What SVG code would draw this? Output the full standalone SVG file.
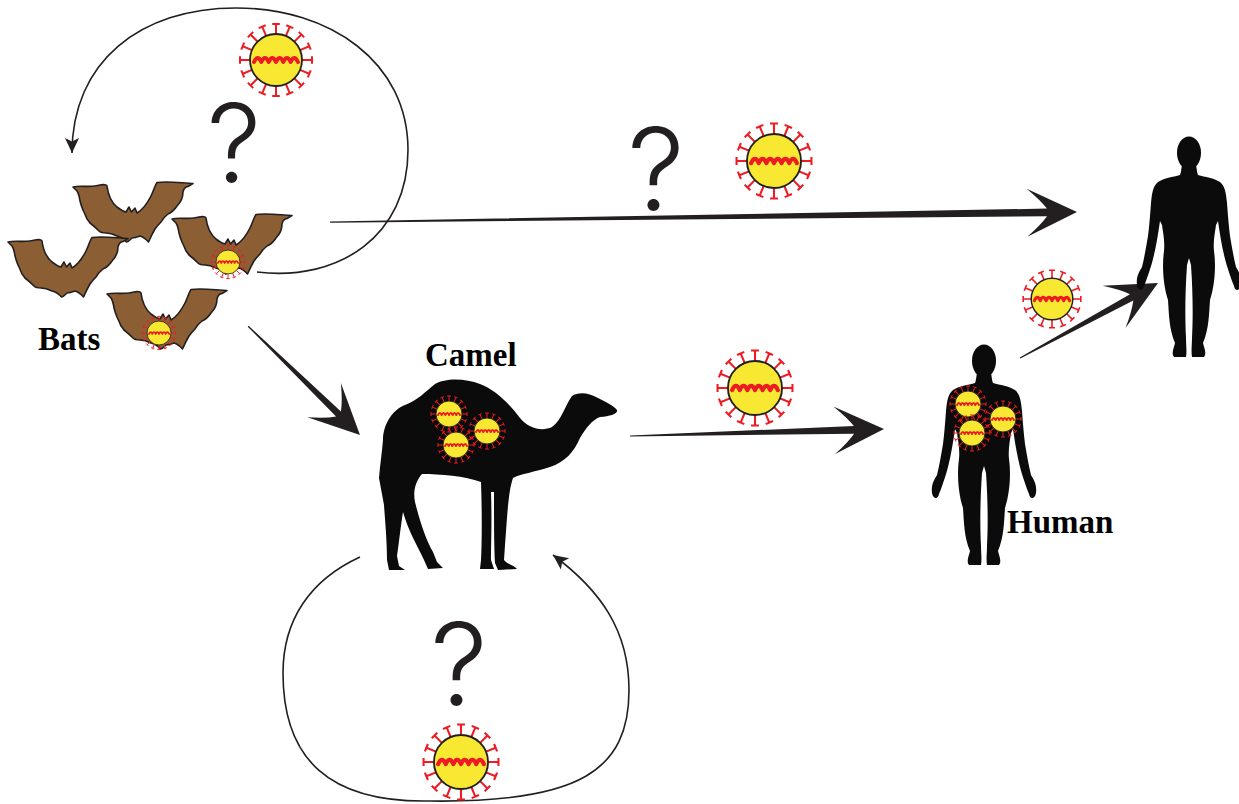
<svg xmlns="http://www.w3.org/2000/svg" xmlns:xlink="http://www.w3.org/1999/xlink" width="1239" height="804" viewBox="0 0 1239 804">
  <style>
    .label { font-family: "Liberation Serif", "Times New Roman", serif; font-weight: bold; font-size: 33px; fill: #000; }
    .qmark { font-family: Inter, "Open Sans", "DejaVu Sans", sans-serif; font-weight: 300; fill: #231f20; text-anchor: middle; }
    .loop { fill: none; stroke: #231f20; stroke-width: 1.6; }
    .arrow { fill: #231f20; }
    .bat { fill: #8b5e34; stroke: #231f20; stroke-width: 1.6; stroke-linejoin: round; }
    .silhouette { fill: #0b0b0b; }
    .spike { fill: none; stroke: #ed1c24; stroke-width: 2; stroke-linecap: butt; }
    .capsid { fill: #f9e831; stroke: #231f20; stroke-width: 1.8; }
    .rna { fill: none; stroke: #ed1c24; stroke-width: 4; stroke-linejoin: round; stroke-linecap: round; }
  </style>
  <defs>
    <!-- one spike protein: stem plus T-cap -->
    <path id="spike" class="spike" d="M0,-26 V-36 M-3.8,-36 H3.8"/>
    <!-- virion, radius 26, centred on the origin -->
    <g id="virus">
      <use xlink:href="#spike"/>
      <use xlink:href="#spike" transform="rotate(22.5)"/>
      <use xlink:href="#spike" transform="rotate(45)"/>
      <use xlink:href="#spike" transform="rotate(67.5)"/>
      <use xlink:href="#spike" transform="rotate(90)"/>
      <use xlink:href="#spike" transform="rotate(112.5)"/>
      <use xlink:href="#spike" transform="rotate(135)"/>
      <use xlink:href="#spike" transform="rotate(157.5)"/>
      <use xlink:href="#spike" transform="rotate(180)"/>
      <use xlink:href="#spike" transform="rotate(202.5)"/>
      <use xlink:href="#spike" transform="rotate(225)"/>
      <use xlink:href="#spike" transform="rotate(247.5)"/>
      <use xlink:href="#spike" transform="rotate(270)"/>
      <use xlink:href="#spike" transform="rotate(292.5)"/>
      <use xlink:href="#spike" transform="rotate(315)"/>
      <use xlink:href="#spike" transform="rotate(337.5)"/>
      <circle class="capsid" r="26"/>
      <path class="rna" d="M-22,2 q3.66,-8 7.33,0 q3.66,-8 7.33,0 q3.66,-8 7.33,0 q3.66,-8 7.33,0 q3.66,-8 7.33,0 q3.66,-8 7.33,0"/>
    </g>
    <!-- bat with raised wings, about 120 x 62 -->
    <path id="bat" class="bat" d="M0,7 C8,5 18,8 27,5 C31,4 34,5 34,6 C35,14 38,22 44,27 C48,30 51,32 53,32 L56,27 L58.5,32 L62,28 L64,33 C69,30 74,24 78,16 C81,10 82,5 84,2.5 C95,1 108,3 120,3.5 L115,6.5 Q111,7 110,12 Q110,20 104,26 Q100,32 95,34 Q90,38 88,42 Q84,46 82,49 Q79,54 75.5,62 Q71,57 67,56 Q62,58 59,58 Q55,62 53.5,62 Q49,57 44,56 Q38,53 33,53 Q28,53 26,51 Q21,46 17,43 Q15,40 14,39 Q12,34 10,30 Q8,25 7,21 Q6,14 4,11 Q2,9 0,7 Z"/>
    <!-- standing human, centred on x=0, head top at y=0 -->
    <g id="person" class="silhouette">
      <ellipse cx="0" cy="16" rx="12" ry="16.5"/>
      <path d="M-7,28 L7,28 C8,33 8,36 9,38 C16,40 25,41 31,45 C36,49 37,56 38,66 C39,80 40,91 41,99 C43,111 45,122 47,130 C50,135 53,140 52,148 C51,154 46,155 45,149 L43,144 C41,138 38,130 36,122 C33,110 31,98 29,84 L27,88 C26,96 24,104 25,114 C27,128 26,148 21,163 C20,177 20,192 14,206 C15,211 18,216 15,220 L3,220 C2,214 3,208 3,201 C4,182 4,157 2,128 L0,121 L-2,128 C-4,157 -4,182 -3,201 C-3,208 -2,214 -3,220 L-15,220 C-18,216 -15,211 -14,206 C-20,192 -20,177 -21,163 C-26,148 -27,128 -25,114 C-24,104 -26,96 -27,88 L-29,84 C-31,98 -33,110 -36,122 C-38,130 -41,138 -43,144 L-45,149 C-46,155 -51,154 -52,148 C-53,140 -50,135 -47,130 C-45,122 -43,111 -41,99 C-40,91 -39,80 -38,66 C-37,56 -36,49 -31,45 C-25,41 -16,40 -9,38 C-8,36 -8,33 -7,28 Z"/>
    </g>
    <marker id="loopHead" viewBox="-16 -8 17 16" refX="0" refY="0" markerWidth="17" markerHeight="16" markerUnits="userSpaceOnUse" orient="auto">
      <path d="M0,0 L-15,-7 L-11.5,0 L-15,7 Z" fill="#231f20"/>
    </marker>
  </defs>

  <!-- connectors -->
  <g id="connectors">
    <!-- bats to bats cycle -->
    <path class="loop" d="M257,272 C340,282 408,235 408,150 C408,62 330,8 236,8 C140,8 72,62 72,153" marker-end="url(#loopHead)"/>
    <!-- camel to camel cycle -->
    <path class="loop" d="M360,557 C310,580 283,620 283,673 C283,760 330,803 430,801 C580,803 629,770 629,690 C629,630 600,590 553,555" marker-end="url(#loopHead)"/>
    <!-- bats to human (direct) -->
    <path class="arrow" transform="translate(1077,212) rotate(-0.77)" d="M0,0 L-50,-24 Q-36,-12 -30,-3.8 L-747,-0.6 L-747,0.6 L-30,3.8 Q-36,12 -50,24 Z"/>
    <!-- bats to camel -->
    <path class="arrow" transform="translate(360,435) rotate(44.2)" d="M0,0 L-50,-24 Q-36,-12 -30,-3.5 L-156,-0.6 L-156,0.6 L-30,3.5 Q-36,12 -50,24 Z"/>
    <!-- camel to human -->
    <path class="arrow" transform="translate(884,429) rotate(-1.58)" d="M0,0 L-50,-24 Q-36,-12 -30,-3.8 L-254,-0.6 L-254,0.6 L-30,3.8 Q-36,12 -50,24 Z"/>
    <!-- human to human -->
    <path class="arrow" transform="translate(1158,283) rotate(-28.5)" d="M0,0 L-50,-24 Q-36,-12 -30,-3.5 L-157,-0.6 L-157,0.6 L-30,3.5 Q-36,12 -50,24 Z"/>
  </g>

  <!-- free-floating virions and question marks on the routes -->
  <g id="route-bats-loop">
    <use xlink:href="#virus" transform="translate(276,60)"/>
    <text class="qmark" font-size="108" x="234" y="182">?</text>
  </g>
  <g id="route-bats-human">
    <text class="qmark" font-size="114" x="656" y="210">?</text>
    <use xlink:href="#virus" transform="translate(774,161) scale(1.04)"/>
  </g>
  <g id="route-camel-human">
    <use xlink:href="#virus" transform="translate(755,388) scale(1.04)"/>
  </g>
  <g id="route-human-human">
    <use xlink:href="#virus" transform="translate(1052,299) scale(0.8)"/>
  </g>
  <g id="route-camel-loop">
    <text class="qmark" font-size="114" x="459" y="705">?</text>
    <use xlink:href="#virus" transform="translate(461,762) scale(1.04)"/>
  </g>

  <!-- bats -->
  <g id="bats">
    <use xlink:href="#bat" transform="translate(73,180)"/>
    <use xlink:href="#bat" transform="translate(8,235)"/>
    <use xlink:href="#bat" transform="translate(172,212)"/>
    <use xlink:href="#virus" transform="translate(228,262) scale(0.46)"/>
    <use xlink:href="#bat" transform="translate(107,287)"/>
    <use xlink:href="#virus" transform="translate(159,333) scale(0.46)"/>
    <text class="label" x="38" y="350">Bats</text>
  </g>

  <!-- camel -->
  <g id="camel">
    <path class="silhouette" d="M383,440 C383,425 392,410 405,405 C418,400 425,392 435,384 C445,378 465,378 480,384 C495,390 508,402 520,418 C528,428 542,432 552,427 C562,420 565,405 572,396 C578,392 588,392 598,398 C606,402 614,406 617,410 C618,414 610,416 600,417 C592,420 586,428 580,438 C574,452 565,462 550,467 C535,472 520,474 513,478 C508,492 507,520 505,545 L504,560 C507,564 515,566 517,569 L498,570 L495,563 C494,545 494,520 494,492 L491,492 C492,520 491,545 491,560 L494,569 L480,569 L481,560 C482,540 482,510 481,482 C465,476 440,474 422,474 C415,482 413,492 415,502 C420,522 426,540 433,552 L437,562 L443,568 L428,569 L424,560 C417,545 408,530 403,512 C401,524 399,542 397,556 L399,566 L405,570 L389,570 L387,560 C387,540 385,520 384,505 L379,478 C380,465 382,452 383,440 Z"/>
    <use xlink:href="#virus" transform="translate(449,414) scale(0.5)"/>
    <use xlink:href="#virus" transform="translate(487,431) scale(0.5)"/>
    <use xlink:href="#virus" transform="translate(456,445) scale(0.5)"/>
    <text class="label" x="425" y="366">Camel</text>
  </g>

  <!-- infected human -->
  <g id="human">
    <use xlink:href="#person" transform="translate(984,345)"/>
    <use xlink:href="#virus" transform="translate(968,404) scale(0.5)"/>
    <use xlink:href="#virus" transform="translate(1003,419) scale(0.5)"/>
    <use xlink:href="#virus" transform="translate(972,433) scale(0.5)"/>
    <text class="label" x="1007" y="533">Human</text>
  </g>

  <!-- secondary human -->
  <g id="human-contact">
    <use xlink:href="#person" transform="translate(1189,137)"/>
  </g>
</svg>
